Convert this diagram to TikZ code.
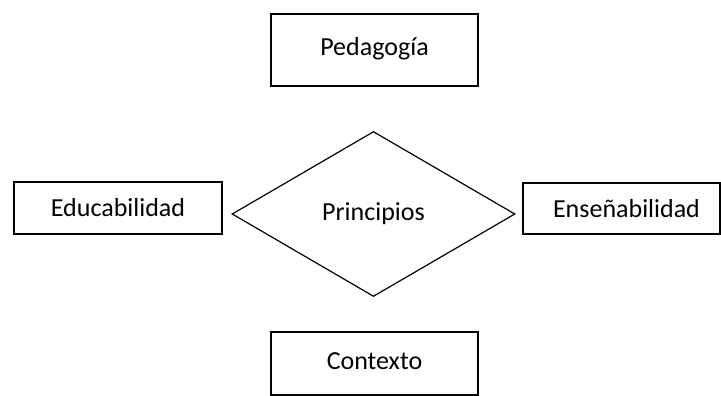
\documentclass[tikz,border=0pt]{standalone}
\usepackage{fontspec}
\setmainfont{Carlito}
\usetikzlibrary{shapes.geometric}
\begin{document}
\begin{tikzpicture}[x=1pt,y=-1pt,
  box/.style={draw=black, line width=1.6pt, rectangle, inner sep=0pt, font=\fontsize{26}{30}\selectfont},
  dia/.style={draw=black, line width=1.2pt, diamond, inner sep=0pt, minimum width=283pt, minimum height=165pt, font=\fontsize{26}{30}\selectfont}]
\useasboundingbox (0,0) rectangle (721,396);
\node[box, minimum width=207pt, minimum height=72pt] (ped) at (374.5,50) {\raisebox{8pt}{Pedagogía}};
\node[box, minimum width=208pt, minimum height=52pt] (edu) at (118,208) {\raisebox{-8pt}{Educabilidad}};
\node[box, minimum width=197pt, minimum height=51pt] (ens) at (621.5,208.5) {\hspace*{10pt}\raisebox{-8pt}{Enseñabilidad}};
\node[box, minimum width=207pt, minimum height=63pt] (con) at (374.5,363.5) {\raisebox{4pt}{Contexto}};
\node[dia] (pri) at (373.5,214) {\raisebox{4pt}{Principios}};
\end{tikzpicture}
\end{document}
